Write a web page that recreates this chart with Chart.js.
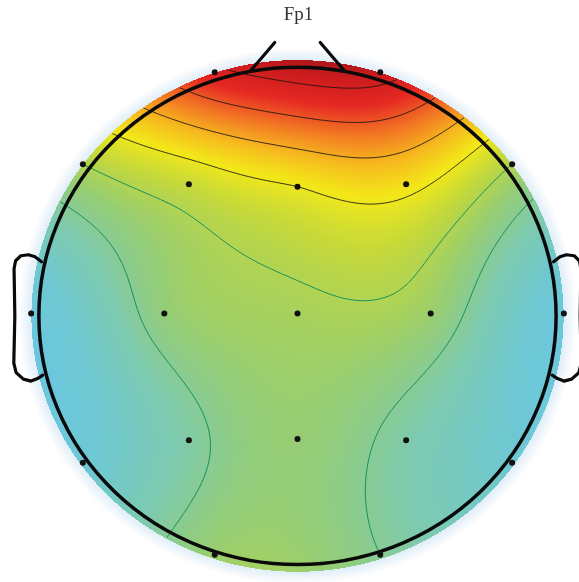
<!DOCTYPE html>
<html>
<head>
<meta charset="utf-8">
<script src="https://cdn.jsdelivr.net/npm/chart.js@4.4.0/dist/chart.umd.min.js"></script>
<style>
  html, body { margin: 0; padding: 0; background: #fff; }
  #wrap { width: 579px; height: 582px; position: relative; }
</style>
</head>
<body>
<div id="wrap"><canvas id="topo"></canvas></div>
<script>
// 10-20 channels
const channels = ['Fp1', 'Fp2', 'F7', 'F3', 'Fz', 'F4', 'F8', 'T3', 'C3', 'Cz', 'C4', 'T4', 'T5', 'P3', 'Pz', 'P4', 'T6', 'O1', 'O2'];
// electrode positions (head radius = 1)
const chanX = [-0.32, 0.32, -0.83, -0.42, 0, 0.42, 0.83, -1.03, -0.515, 0, 0.515, 1.03, -0.83, -0.42, 0, 0.42, 0.83, -0.32, 0.32];
const chanY = [0.98, 0.98, 0.61, 0.53, 0.52, 0.53, 0.61, 0.01, 0.01, 0.01, 0.01, 0.01, -0.59, -0.50, -0.495, -0.50, -0.59, -0.96, -0.96];
// map value at each electrode (normalised 0..1)
const chanVal = [0.88, 0.94, 0.42, 0.47, 0.54, 0.57, 0.42, 0.05, 0.35, 0.40, 0.37, 0.05, 0.10, 0.27, 0.36, 0.26, 0.12, 0.37, 0.30];
// contour levels
const contourLevels = [0.30, 0.42, 0.54, 0.66, 0.78, 0.90];

// layout constants
const TITLE_SIZE = 19;
const TITLE_PAD = 4;
const AREA_TOP = TITLE_SIZE * 1.2 + TITLE_PAD;
const PAD_LEFT = 18;                               // shifts the title centre
const CX = 299, CY = 317.5, RX = 260, RY = 250;   // head centre / radii in px
const FIELD_R = 1.025, HALO_R = 1.08;

// colormap
const cmapStops = [
    [0.00, [106, 199, 228]],
    [0.12, [110, 200, 210]],
    [0.25, [125, 202, 175]],
    [0.36, [150, 205, 115]],
    [0.46, [195, 216, 60]],
    [0.55, [242, 232, 25]],
    [0.64, [246, 185, 30]],
    [0.74, [242, 115, 35]],
    [0.84, [228, 40, 35]],
    [0.93, [205, 28, 30]],
    [1.00, [160, 20, 25]]
];
function colorAt(v) {
    if (v <= cmapStops[0][0]) return cmapStops[0][1];
    for (let i = 1; i < cmapStops.length; i++) {
        if (v <= cmapStops[i][0]) {
            const a = cmapStops[i - 1], b = cmapStops[i];
            const t = (v - a[0]) / (b[0] - a[0]);
            return [0, 1, 2].map(k => a[1][k] + t * (b[1][k] - a[1][k]));
        }
    }
    return cmapStops[cmapStops.length - 1][1];
}

// biharmonic spline (griddata v4 style)
function green(d) { return d > 0 ? d * d * (Math.log(d) - 1) : 0; }
const nCh = chanX.length;
const weights = (function() {
    const A = [];
    for (let i = 0; i < nCh; i++) {
        const row = [];
        for (let j = 0; j < nCh; j++) {
            row.push(green(0.5 * Math.hypot(chanX[i] - chanX[j], chanY[i] - chanY[j])));
        }
        row.push(chanVal[i]);
        A.push(row);
    }
    for (let c = 0; c < nCh; c++) {
        let p = c;
        for (let r = c + 1; r < nCh; r++) if (Math.abs(A[r][c]) > Math.abs(A[p][c])) p = r;
        [A[c], A[p]] = [A[p], A[c]];
        for (let r = 0; r < nCh; r++) {
            if (r === c) continue;
            const f = A[r][c] / A[c][c];
            for (let k = c; k <= nCh; k++) A[r][k] -= f * A[c][k];
        }
    }
    return A.map((row, i) => row[nCh] / row[i]);
})();
function fieldAt(x, y) {
    let s = 0;
    for (let j = 0; j < nCh; j++) s += weights[j] * green(0.5 * Math.hypot(x - chanX[j], y - chanY[j]));
    return s;
}

// plugin drawing the interpolated map, contours and head outline
const topoPlugin = {
    id: 'topo',
    beforeDatasetsDraw(chart) {
        const { ctx, scales: { x, y } } = chart;
        const W = chart.width, H = chart.height;
        const off = document.createElement('canvas');
        off.width = W; off.height = H;
        const octx = off.getContext('2d');
        const img = octx.createImageData(W, H);
        for (let py = 0; py < H; py++) {
            const dy = y.getValueForPixel(py + 0.5);
            for (let px = 0; px < W; px++) {
                const dx = x.getValueForPixel(px + 0.5);
                const r = Math.hypot(dx, dy);
                const idx = (py * W + px) * 4;
                if (r <= FIELD_R + 0.004) {
                    const c = colorAt(fieldAt(dx, dy));
                    img.data[idx] = c[0]; img.data[idx + 1] = c[1]; img.data[idx + 2] = c[2];
                    img.data[idx + 3] = 255;
                } else if (r < HALO_R) {
                    const t = (r - FIELD_R) / (HALO_R - FIELD_R);
                    img.data[idx] = 218; img.data[idx + 1] = 234; img.data[idx + 2] = 246;
                    img.data[idx + 3] = Math.round(255 * (1 - t) * 0.9);
                }
            }
        }
        octx.putImageData(img, 0, 0);
        ctx.drawImage(off, 0, 0, W, H);

        const px0 = x.getPixelForValue(0), py0 = y.getPixelForValue(0);
        const rx = x.getPixelForValue(1) - px0, ry = py0 - y.getPixelForValue(1);

        // contours on a grid
        const step = 0.01, g0 = -1.1, n = 221;
        const grid = [];
        for (let j = 0; j < n; j++) {
            const row = [];
            for (let i = 0; i < n; i++) row.push(fieldAt(g0 + i * step, g0 + j * step));
            grid.push(row);
        }
        ctx.save();
        ctx.beginPath();
        ctx.ellipse(px0, py0, rx * FIELD_R, ry * FIELD_R, 0, 0, Math.PI * 2);
        ctx.clip();
        ctx.lineWidth = 1;
        contourLevels.forEach(level => {
            ctx.strokeStyle = level < 0.5 ? 'rgba(10,140,95,0.95)' : 'rgba(25,20,20,0.85)';
            ctx.beginPath();
            for (let j = 0; j < n - 1; j++) {
                for (let i = 0; i < n - 1; i++) {
                    const v = [grid[j][i], grid[j][i + 1], grid[j + 1][i + 1], grid[j + 1][i]];
                    const cx = [i, i + 1, i + 1, i], cy = [j, j, j + 1, j + 1];
                    const pts = [];
                    for (let e = 0; e < 4; e++) {
                        const a = e, b = (e + 1) % 4;
                        if ((v[a] > level) !== (v[b] > level)) {
                            const t = (level - v[a]) / (v[b] - v[a]);
                            const gx = g0 + (cx[a] + t * (cx[b] - cx[a])) * step;
                            const gy = g0 + (cy[a] + t * (cy[b] - cy[a])) * step;
                            pts.push([x.getPixelForValue(gx), y.getPixelForValue(gy)]);
                        }
                    }
                    for (let k = 0; k + 1 < pts.length; k += 2) {
                        ctx.moveTo(pts[k][0], pts[k][1]);
                        ctx.lineTo(pts[k + 1][0], pts[k + 1][1]);
                    }
                }
            }
            ctx.stroke();
        });
        ctx.restore();

        // head, nose, ears
        ctx.save();
        ctx.strokeStyle = '#0a0a0a';
        ctx.lineJoin = 'round';
        ctx.lineCap = 'round';
        ctx.lineWidth = 3.5;
        ctx.beginPath();
        ctx.ellipse(px0, py0, rx, ry, 0, 0, Math.PI * 2);
        ctx.stroke();
        ctx.lineWidth = 3.2;
        const nose = [[-0.181, 0.986], [-0.088, 1.1], [0.088, 1.1], [0.181, 0.986]];
        ctx.beginPath();
        ctx.moveTo(x.getPixelForValue(nose[0][0]), y.getPixelForValue(nose[0][1]));
        ctx.lineTo(x.getPixelForValue(nose[1][0]), y.getPixelForValue(nose[1][1]));
        ctx.moveTo(x.getPixelForValue(nose[2][0]), y.getPixelForValue(nose[2][1]));
        ctx.lineTo(x.getPixelForValue(nose[3][0]), y.getPixelForValue(nose[3][1]));
        ctx.stroke();
        const ear = [[0.99, 0.218], [1.015, 0.238], [1.04, 0.246], [1.07, 0.242], [1.09, 0.222], [1.096, 0.19],
                     [1.093, 0.0], [1.097, -0.19], [1.088, -0.228], [1.06, -0.254], [1.03, -0.262], [1.005, -0.252], [0.985, -0.238]];
        [1, -1].forEach(side => {
            ctx.beginPath();
            ear.forEach((p, i) => {
                const ex = x.getPixelForValue(side * p[0]), ey = y.getPixelForValue(p[1]);
                if (i === 0) ctx.moveTo(ex, ey); else ctx.lineTo(ex, ey);
            });
            ctx.stroke();
        });
        ctx.restore();
    }
};

const points = chanX.map((cx, i) => ({ x: cx, y: chanY[i], name: channels[i] }));

new Chart(document.getElementById('topo'), {
    type: 'scatter',
    data: {
        datasets: [{
            label: 'Electrodes',
            data: points,
            pointRadius: 3,
            pointHoverRadius: 3,
            backgroundColor: '#111',
            borderWidth: 0
        }]
    },
    options: {
        responsive: true,
        maintainAspectRatio: false,
        animation: false,
        layout: { padding: { left: PAD_LEFT, top: 0, right: 0, bottom: 0 } },
        scales: {
            x: { type: 'linear', min: (PAD_LEFT - CX) / RX, max: (579 - CX) / RX, display: false },
            y: { type: 'linear', min: (CY - 582) / RY, max: (CY - AREA_TOP) / RY, display: false }
        },
        plugins: {
            legend: { display: false },
            tooltip: { enabled: false },
            title: {
                display: true,
                text: 'Fp1',
                color: '#333',
                font: { family: "'Liberation Serif', 'Times New Roman', serif", size: TITLE_SIZE, weight: 'normal' },
                padding: { top: TITLE_PAD, bottom: 0 }
            }
        }
    },
    plugins: [topoPlugin]
});
</script>
</body>
</html>
